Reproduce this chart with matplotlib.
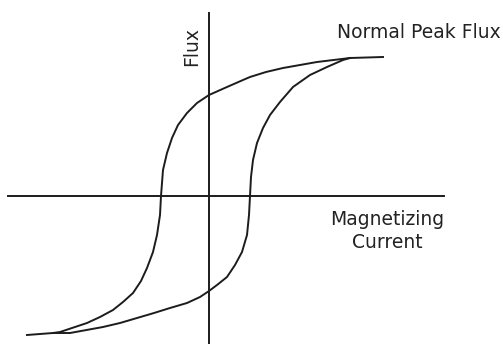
import matplotlib.pyplot as plt

# hysteresis loop (origin at the axes crossing)
desc_x = [174, 141, 108, 91, 74, 57, 41, 34, 18, 0, -12, -22, -31, -37, -42,
          -46, -47, -48, -49, -52, -56, -62, -68, -76, -86, -96, -109, -122,
          -149, -156, -182]
desc_y = [139, 138, 134, 131, 128, 124, 119, 116, 109, 101, 93, 83, 71, 58, 43,
          26, 13, 0, -19, -39, -56, -72, -85, -97, -106, -114, -121, -127,
          -136, -137, -139]

asc_x = [-156, -139, -106, -89, -72, -55, -39, -22, -9, 0, 8, 18, 26, 33, 38,
         40, 41, 42, 44, 48, 54, 61, 71, 84, 101, 118, 134, 141]
asc_y = [-137, -137, -131, -127, -122, -117, -112, -107, -101, -95, -89, -81,
         -69, -56, -39, -19, 0, 19, 36, 53, 68, 81, 94, 109, 121, 129, 136, 138]

col = '#1c1c1c'
fig = plt.figure(figsize=(5.03, 3.44), dpi=100)
ax = fig.add_axes([0, 0, 1, 1])
ax.set_xlim(-209, 294)
ax.set_ylim(-148, 196)
ax.axis('off')

# axes
ax.plot([-201, 235], [0, 0], color=col, lw=1.4)
ax.plot([0, 0], [-148, 183], color=col, lw=1.4)

ax.plot(desc_x, desc_y, color=col, lw=1.4, solid_joinstyle='round')
ax.plot(asc_x, asc_y, color=col, lw=1.4, solid_joinstyle='round')

ax.text(-17, 149, 'Flux', rotation=90, ha='center', va='center',
        fontsize=13.5, color='#222222')
ax.text(210, 164, 'Normal Peak Flux', ha='center', va='center',
        fontsize=13.5, color='#222222')
ax.text(178, -35, 'Magnetizing\nCurrent', ha='center', va='center',
        fontsize=13.5, color='#222222', linespacing=1.25)

fig.savefig('out.png', dpi=100)
